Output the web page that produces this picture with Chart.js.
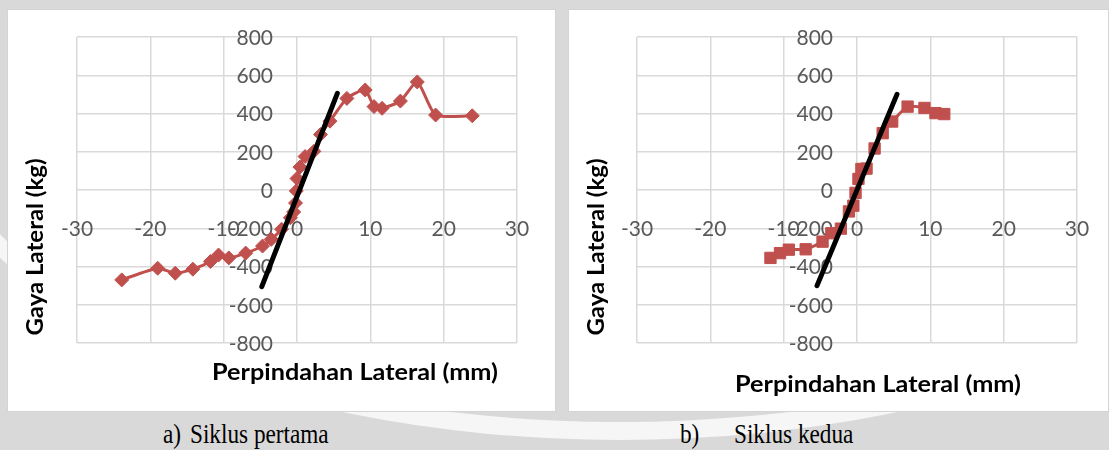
<!DOCTYPE html>
<html>
<head>
<meta charset="utf-8">
<script src="https://cdn.jsdelivr.net/npm/chart.js@4.4.1/dist/chart.umd.min.js"></script>
<style>
  body { margin: 0; width: 1109px; height: 450px; background: #d9d9d9; position: relative; overflow: hidden; }
  .swoosh { position: absolute; left: -80px; top: -240px; width: 1400px; height: 680px; border-radius: 50%;
            border: 18px solid rgba(255, 255, 255, 0.75); box-sizing: border-box; }
  .panel { position: absolute; top: 9px; height: 403px; background: #fff; box-shadow: inset 0 0 0 1px #d4d4d4; }
  #panelA { left: 7px; width: 549px; }
  #panelB { left: 568px; width: 541px; }
  .caption { position: absolute; top: 419px; font-family: "Liberation Serif", "Times New Roman", serif; font-size: 27px;
             color: #000; white-space: nowrap; transform: scaleX(0.86); transform-origin: left top; }
</style>
</head>
<body>
<div class="swoosh"></div>
<div class="panel" id="panelA"><canvas id="chartA" width="549" height="403"></canvas></div>
<div class="panel" id="panelB"><canvas id="chartB" width="541" height="403"></canvas></div>
<div class="caption" style="left:163px">a)</div>
<div class="caption" style="left:190px">Siklus pertama</div>
<div class="caption" style="left:680px">b)</div>
<div class="caption" style="left:734px">Siklus kedua</div>

<script>
// axis ticks
const xTicks = [-30, -20, -10, 0, 10, 20, 30];
const yTicks = [800, 600, 400, 200, 0, -200, -400, -600, -800];

// siklus pertama
const dispA = [-23.9, -19.0, -16.6, -14.2, -11.8, -10.7, -9.3, -7.0, -4.7, -3.5, -2.1, -0.9, -0.45, -0.2, -0.1,
  0.0, 0.4, 1.1, 2.3, 3.2, 4.5, 6.8, 9.3, 10.5, 11.6, 14.1, 16.4, 18.9, 23.9];
const forceA = [-470, -409, -435, -414, -374, -340, -355, -330, -293, -258, -205, -145, -115, -68, -5,
  60, 120, 175, 202, 290, 360, 479, 523, 436, 427, 465, 565, 392, 388];
const stiffDispA = [-4.8, 5.5];
const stiffForceA = [-505, 505];

// siklus kedua
const dispB = [-11.8, -10.5, -9.3, -7.0, -4.7, -3.5, -2.2, -1.1, -0.5, -0.2,
  0.2, 0.6, 1.3, 2.4, 3.5, 4.8, 6.9, 9.2, 10.7, 11.9];
const forceB = [-355, -330, -312, -310, -270, -226, -202, -112, -82, -15,
  58, 110, 112, 217, 297, 358, 436, 429, 402, 397];
const stiffDispB = [-5.45, 5.45];
const stiffForceB = [-500, 500];

const xTitle = 'Perpindahan Lateral (mm)';
const yTitle = 'Gaya Lateral (kg)';

const red = '#c0504d';

function pts(xs, ys) {
  return xs.map((v, i) => ({ x: v, y: ys[i] }));
}

// squeeze or stretch text to a given width
function fitText(ctx, text, cx, cy, width) {
  const w = ctx.measureText(text).width;
  ctx.save();
  ctx.translate(cx, cy);
  ctx.scale(width / w, 1);
  ctx.fillText(text, 0, 0);
  ctx.restore();
}

// tick labels sit next to the zero lines, titles at fixed spots
const axisText = {
  id: 'axisText',
  beforeDatasetsDraw(chart, args, opts) {
    const { ctx } = chart;
    const x = chart.scales.x, y = chart.scales.y;
    ctx.save();
    ctx.fillStyle = '#595959';
    ctx.font = '21px Lato';
    ctx.textBaseline = 'middle';
    ctx.textAlign = 'center';
    const rowY = y.getPixelForValue(-200) + 1;
    xTicks.forEach(v => ctx.fillText(String(v), x.getPixelForValue(v), rowY));
    ctx.textAlign = 'right';
    const colX = x.getPixelForValue(0) - 24;
    yTicks.forEach(v => ctx.fillText(String(v), colX, y.getPixelForValue(v) + 1));

    ctx.fillStyle = '#000';
    ctx.font = 'bold 22px Lato';
    ctx.textAlign = 'center';
    fitText(ctx, xTitle, opts.xTitle[0], opts.xTitle[1], 286);
    ctx.translate(opts.yTitle[0], opts.yTitle[1]);
    ctx.rotate(-Math.PI / 2);
    fitText(ctx, yTitle, 0, 0, 177);
    ctx.restore();
  }
};

function makeChart(id, disp, force, stiffX, stiffY, marker, radius, pad, titles) {
  return new Chart(document.getElementById(id), {
    type: 'scatter',
    data: {
      datasets: [
        {
          data: pts(stiffX, stiffY),
          showLine: true,
          borderColor: '#000',
          borderWidth: 5,
          borderCapStyle: 'round',
          pointRadius: 0
        },
        {
          data: pts(disp, force),
          showLine: true,
          tension: 0.2,
          borderColor: red,
          borderWidth: 3,
          pointStyle: marker,
          pointRadius: radius,
          pointBackgroundColor: red,
          pointBorderColor: red,
          pointBorderWidth: 1
        }
      ]
    },
    options: {
      responsive: false,
      animation: false,
      devicePixelRatio: 1,
      layout: { padding: pad },
      plugins: {
        legend: { display: false },
        tooltip: { enabled: false },
        axisText: titles
      },
      scales: {
        x: {
          type: 'linear',
          min: -30, max: 30,
          ticks: { display: false, stepSize: 10 },
          grid: { color: '#d9d9d9', lineWidth: 1.5, drawTicks: false },
          border: { display: false }
        },
        y: {
          type: 'linear',
          min: -800, max: 800,
          ticks: { display: false, stepSize: 200 },
          grid: { color: '#d9d9d9', lineWidth: 1.5, drawTicks: false },
          border: { display: false }
        }
      }
    },
    plugins: [axisText]
  });
}

Promise.all([
  document.fonts.load('21px Lato'),
  document.fonts.load('bold 22px Lato')
]).catch(() => {}).then(() => {
  makeChart('chartA', dispA, forceA, stiffDispA, stiffForceA, 'rectRot', 7,
    { left: 70, top: 28, right: 39, bottom: 69 },
    { xTitle: [348, 364], yTitle: [29, 238] });
  makeChart('chartB', dispB, forceB, stiffDispB, stiffForceB, 'rect', 8,
    { left: 69, top: 28, right: 32, bottom: 69 },
    { xTitle: [310, 376], yTitle: [29, 238] });
});
</script>
</body>
</html>
